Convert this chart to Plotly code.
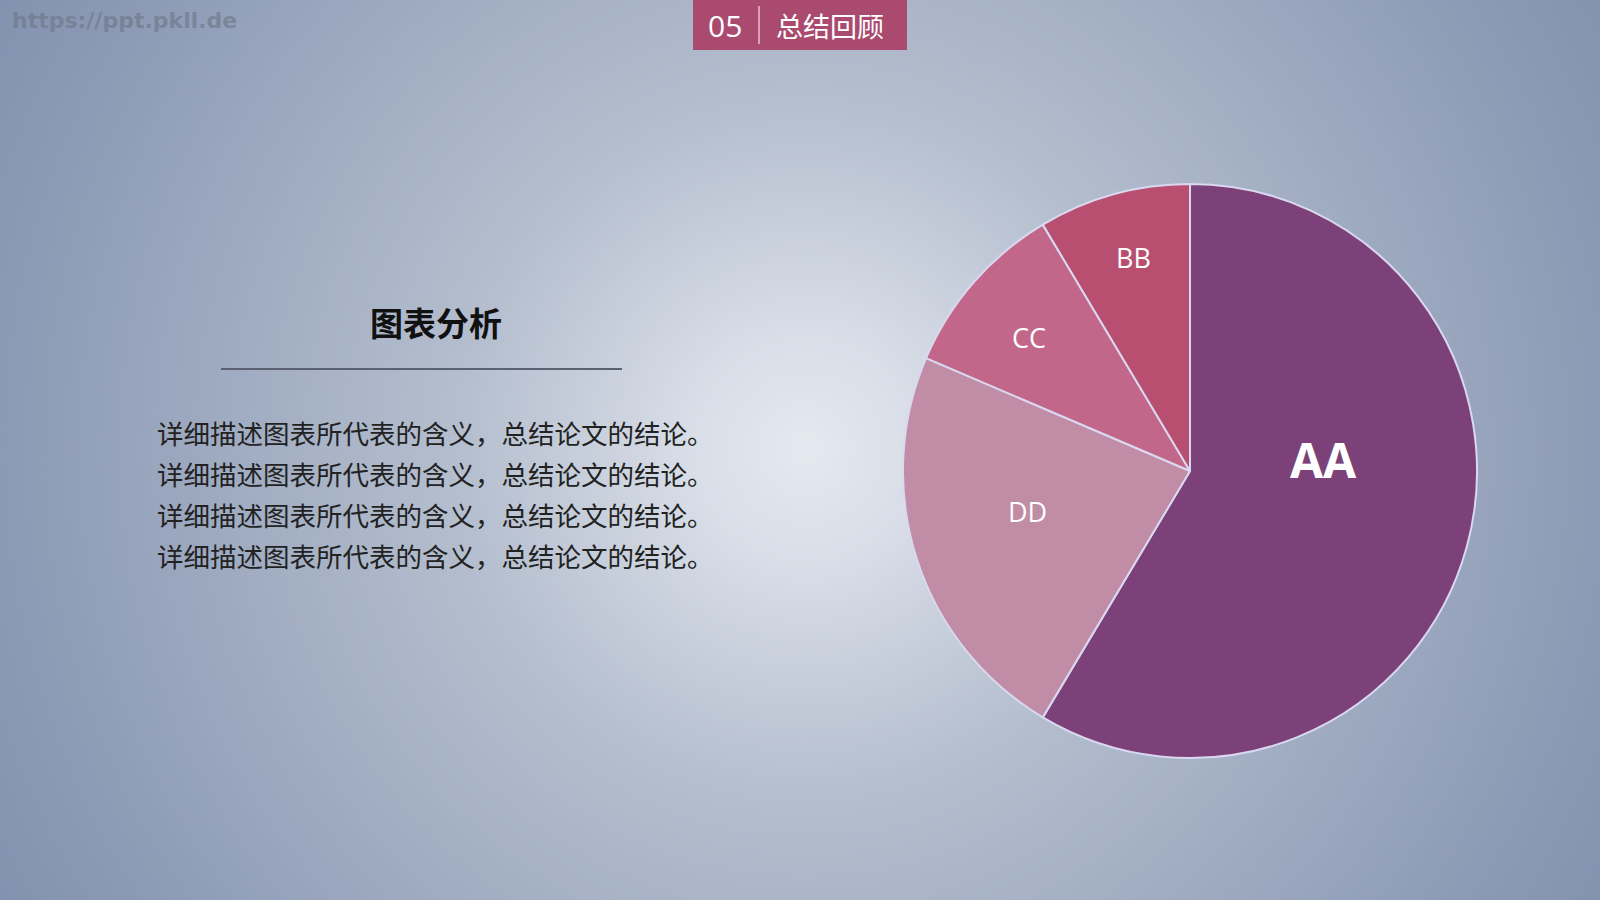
import plotly.graph_objects as go
import numpy as np

# ---- data ----
labels = ["AA", "DD", "CC", "BB"]
values = [8.2, 3.2, 1.4, 1.2]
slice_colors = ["#7C4178", "#C08CA6", "#C2678A", "#B94F70"]
label_sizes = [48, 27, 27, 27]
label_pos = [(1323, 459), (1027, 511), (1029, 337), (1133, 258)]  # label anchor (px)

header_num = "05"
header_title = "总结回顾"
watermark = "https://ppt.pkll.de"
panel_title = "图表分析"
body_lines = ["详细描述图表所代表的含义，总结论文的结论。"] * 4

W, H = 1600, 900

fig = go.Figure()

fig.add_trace(go.Pie(
    labels=labels, values=values, sort=False, direction="clockwise", rotation=0,
    marker=dict(colors=slice_colors, line=dict(color="#DAD8F0", width=2)),
    textinfo="none",
    domain=dict(x=[(1190 - 287) / W, (1190 + 287) / W], y=[1 - 758 / H, 1 - 184 / H]),
    showlegend=False, hoverinfo="label+value",
))

# ---- radial gradient background (concentric rings) ----
cx, cy = 806, 449
stops_d = [0, 120, 350, 800, 1000]
stops_c = [(229, 233, 240), (216, 221, 231), (180, 190, 206), (140, 154, 181), (125, 141, 172)]
shapes = []
for r in range(1000, 0, -5):
    c = [int(round(np.interp(r, stops_d, [s[i] for s in stops_c]))) for i in range(3)]
    col = f"rgb({c[0]},{c[1]},{c[2]})"
    shapes.append(dict(type="circle", xref="paper", yref="paper", layer="below",
                       x0=(cx - r) / W, x1=(cx + r) / W, y0=1 - (cy + r) / H, y1=1 - (cy - r) / H,
                       fillcolor=col, line=dict(width=0)))

# header box
shapes.append(dict(type="rect", xref="paper", yref="paper", layer="below",
                   x0=693 / W, x1=907 / W, y0=1 - 50 / H, y1=1.0,
                   fillcolor="#A94A6E", line=dict(width=0)))
shapes.append(dict(type="line", xref="paper", yref="paper", layer="above",
                   x0=759 / W, x1=759 / W, y0=1 - 44 / H, y1=1 - 6 / H,
                   line=dict(color="#E6C2D0", width=1.5)))
# underline
shapes.append(dict(type="line", xref="paper", yref="paper", layer="above",
                   x0=221 / W, x1=622 / W, y0=1 - 369 / H, y1=1 - 369 / H,
                   line=dict(color="#5A6172", width=2)))

annotations = []
def ann(text, x, y, size, color, family, xanchor="center", bold=False):
    t = f"<b>{text}</b>" if bold else text
    annotations.append(dict(text=t, x=x / W, y=1 - y / H, xref="paper", yref="paper",
                            xanchor=xanchor, yanchor="middle", showarrow=False,
                            font=dict(size=size, color=color, family=family)))

cjk = "Noto Sans CJK SC, sans-serif"
lat = "Open Sans, Noto Sans, sans-serif"
ann(watermark, 10, 21, 22, "rgba(110,118,135,0.65)", "DejaVu Sans, sans-serif", xanchor="left", bold=True)
ann(header_num, 725, 26, 30, "white", lat)
ann(header_title, 830, 26, 27, "white", cjk)
ann(panel_title, 436, 322, 33, "#111111", cjk, bold=True)
for i, line in enumerate(body_lines):
    ann(line, 155, 432 + i * 41.3, 26.5, "#222222", cjk, xanchor="left")

for lab, (px, py), sz in zip(labels, label_pos, label_sizes):
    ann(lab, px, py, sz, "white", lat, bold=(lab == "AA"))

fig.update_layout(
    width=W, height=H, margin=dict(l=0, r=0, t=0, b=0),
    paper_bgcolor="rgb(125,141,172)", plot_bgcolor="rgba(0,0,0,0)",
    shapes=shapes, annotations=annotations,
)

fig.write_html("out.html", config={"displayModeBar": False},
               post_script="document.body.style.margin='0';document.body.style.padding='0';document.body.style.overflow='hidden';")
